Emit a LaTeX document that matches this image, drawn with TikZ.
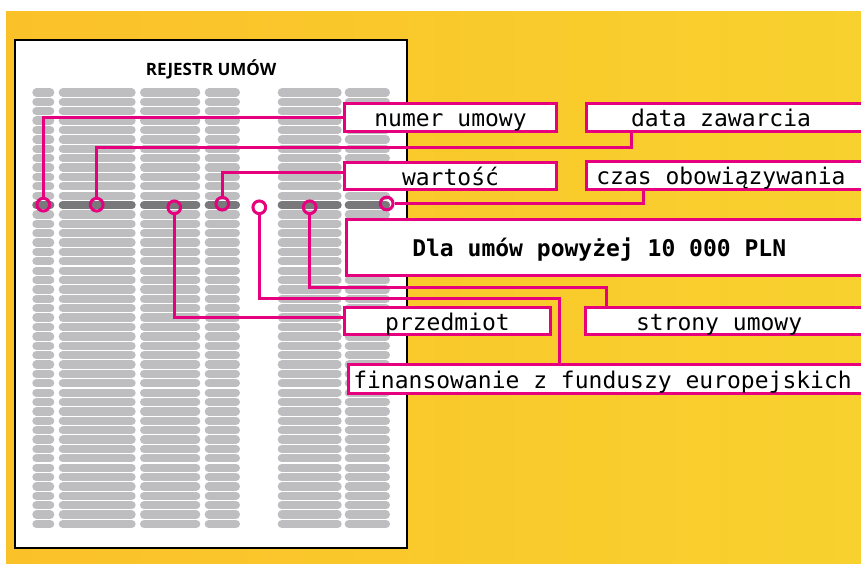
\documentclass[tikz,border=0pt]{standalone}
\usepackage{fontspec}
\setmainfont{Open Sans}
\newfontfamily\monofont{DejaVu Sans Mono}
\usetikzlibrary{calc}
\definecolor{bgleft}{RGB}{251,193,41}
\definecolor{bgright}{RGB}{248,209,46}
\definecolor{pinkm}{RGB}{230,0,126}
\definecolor{pillgrey}{RGB}{190,190,192}
\definecolor{pilldark}{RGB}{121,121,123}
\tikzset{
	pill/.style={line width=8.3pt, line cap=round, draw=pillgrey},
	ring/.style={circle, draw=pinkm, line width=3pt, minimum size=12.7pt, inner sep=0pt},
	wire/.style={draw=pinkm, line width=3pt},
	lbl/.style={draw=pinkm, line width=3pt, fill=white, font=\monofont\fontsize{23}{23}\selectfont,
		text height=18.4pt, text depth=0pt, minimum height=27.4pt, inner ysep=0pt},
	lblcut/.style={lbl, anchor=west}
}

\begin{document}
\begin{tikzpicture}[x=1pt,y=-1pt]
			%%%%% START %%%%%
			\useasboundingbox (0,0) rectangle (861,563);
			\clip (0,0) rectangle (861,563);
			\shade[left color=bgleft, right color=bgright] (6,11) rectangle (861,563);
			
			% the register sheet
			\draw[fill=white, line width=1.5pt] (15,40) rectangle (407,548);
			\node[font=\bfseries\fontsize{17}{17}\selectfont] (title) at (211,69) {REJESTR UMÓW};
			
			\foreach \r in {0,...,46}{
				\pgfmathsetmacro\yy{92.5+9.38*\r}
				\foreach \xa/\xb in {32.3/54.3, 58.7/135.7, 140/200.3, 204.7/240, 277.7/341.7, 344.7/390}
					\draw[pill] (\xa+4.15,\yy) -- (\xb-4.15,\yy);
			}
			\foreach \xa/\xb in {32.3/54.3, 58.7/135.7, 140/200.3, 204.7/240, 277.7/341.7, 344.7/390}
				\draw[pill, draw=pilldark] (\xa+4.15,205.06) -- (\xb-4.15,205.06);
			
			% fields of the highlighted row
			\node[ring] (cNumer) at (43.3,204.7) {};
			\node[ring] (cData) at (96.7,204.7) {};
			\node[ring] (cPrzed) at (174.3,207.3) {};
			\node[ring] (cWart) at (222.3,203.7) {};
			\node[ring] (cFin) at (259.3,207.3) {};
			\node[ring] (cStrony) at (309.7,207.3) {};
			\node[ring] (cCzas) at (386.7,203.5) {};
			
			% labels
			\node[lbl, minimum width=211.4pt] (numer) at (450.5,117.5) {numer umowy};
			\node[lbl, minimum width=211.4pt] (wart) at (450.5,176) {wartość};
			\node[lbl, minimum width=205.4pt] (przed) at (447.5,321) {przedmiot};
			\node[lblcut, inner xsep=44.7pt] (data) at (584.8,117.5) {\makebox[200pt][l]{data zawarcia}};
			\node[lblcut, inner xsep=10pt] (czas) at (584.8,175.5) {\makebox[270pt][l]{czas obowiązywania}};
			\node[lblcut, inner xsep=66pt, minimum height=56.6pt, font=\monofont\bfseries\fontsize{23}{23}\selectfont] (dla) at (344.8,247.5) {\makebox[400pt][l]{Dla umów powyżej 10 000 PLN}};
			\node[lblcut, inner xsep=50.7pt] (strony) at (583.8,320.9) {\makebox[200pt][l]{strony umowy}};
			\node[lblcut, inner xsep=5.3pt, minimum height=29.3pt] (fin) at (346.5,378.9) {\makebox[520pt][l]{finansowanie z funduszy europejskich}};
			
			\coordinate (dataknee) at (631.3,147.7);
			\coordinate (czasknee) at (643.3,203.5);
			\coordinate (finknee) at (559.3,298.3);
			\coordinate (stronyknee) at (606.7,287.3);
			
			% connectors
			\draw[wire] (cNumer) |- (numer.west);
			\draw[wire] (cData) |- (dataknee) -- (dataknee |- data.south);
			\draw[wire] (cWart) |- ([yshift=3.5pt]wart.west);
			\draw[wire] (cCzas) -- (czasknee) -- (czasknee |- czas.south);
			\draw[wire] (cPrzed) |- ([yshift=4pt]przed.west);
			\draw[wire] (cFin) |- (finknee) -- (finknee |- fin.north);
			\draw[wire] (cStrony) |- (stronyknee) -- (stronyknee |- strony.north);
			%%%%% END %%%%%
		\end{tikzpicture}
\end{document}
